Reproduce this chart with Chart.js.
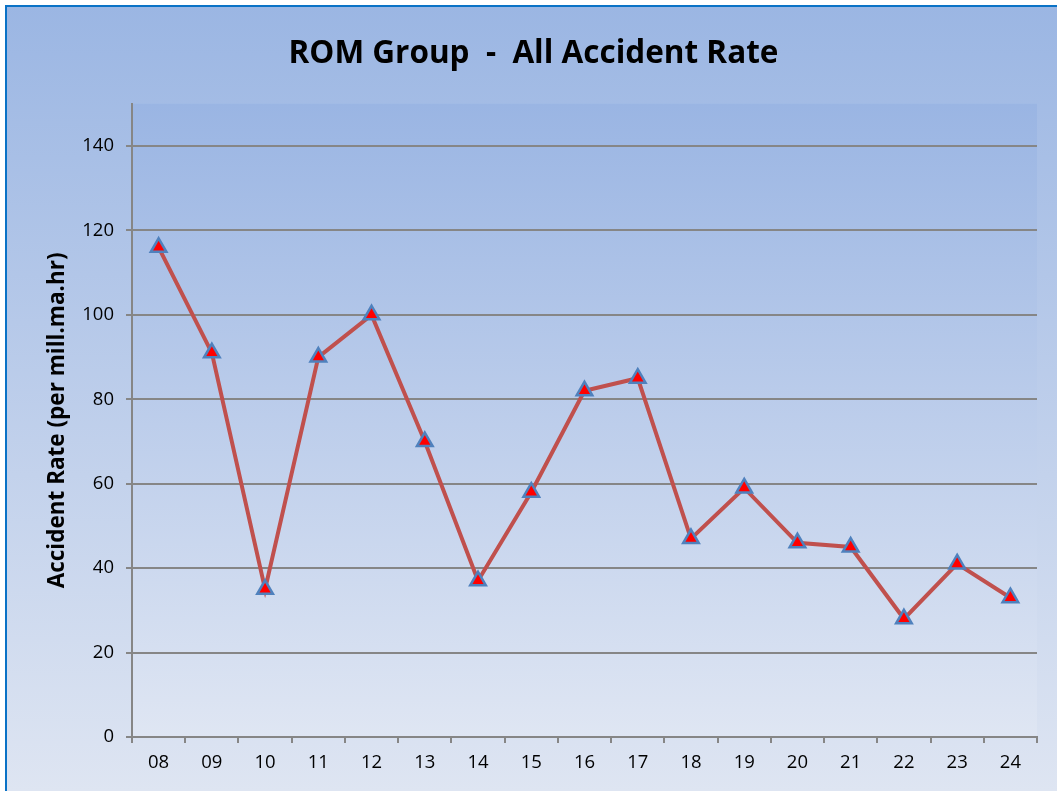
<!DOCTYPE html>
<html>
<head>
<meta charset="utf-8">
<script src="https://cdn.jsdelivr.net/npm/chart.js@4/dist/chart.umd.min.js"></script>
<style>
  html, body { margin: 0; padding: 0; background: #fff; }
  #wrap { position: relative; width: 1057px; height: 791px; }
</style>
</head>
<body>
<div id="wrap"><canvas id="rateChart"></canvas></div>
<script>
const years = ['08', '09', '10', '11', '12', '13', '14', '15', '16', '17', '18', '19', '20', '21', '22', '23', '24'];
const accidentRate = [116, 91, 35, 90, 100, 70, 37, 58, 82, 85, 47, 59, 46, 45, 28, 41, 33];
const yTicks = [0, 20, 40, 60, 80, 100, 120, 140];

// backgrounds: outer frame and plot area both fade from blue to pale
const backdrop = {
  id: 'backdrop',
  beforeDraw(chart) {
    const ctx = chart.ctx
    const w = chart.width, h = chart.height
    ctx.save()
    ctx.fillStyle = '#ffffff'
    ctx.fillRect(0, 0, w, h)
    let g = ctx.createLinearGradient(0, 6, 0, h)
    g.addColorStop(0, '#9bb6e3')
    g.addColorStop(1, '#dee5f2')
    ctx.fillStyle = g
    ctx.fillRect(6, 6, w, h)
    ctx.strokeStyle = '#0a72c6'
    ctx.lineWidth = 2
    ctx.beginPath()
    ctx.moveTo(6, h)
    ctx.lineTo(6, 6)
    ctx.lineTo(w, 6)
    ctx.stroke()
    const a = chart.chartArea
    g = ctx.createLinearGradient(0, a.top, 0, a.bottom)
    g.addColorStop(0, '#9ab5e3')
    g.addColorStop(1, '#dfe6f3')
    ctx.fillStyle = g
    ctx.fillRect(a.left, a.top, a.right - a.left, a.bottom - a.top)
    ctx.restore()
  }
}

const data = {
  labels: years,
  datasets: [{
    label: 'Accident Rate',
    data: accidentRate,
    borderColor: '#c0504d',
    borderWidth: 4,
    pointStyle: 'triangle',
    pointRadius: 9,
    pointHoverRadius: 9,
    pointBackgroundColor: '#ff0000',
    pointBorderColor: '#4f81bd',
    pointBorderWidth: 2.5,
    tension: 0
  }]
}

const config = {
  type: 'line',
  data: data,
  plugins: [backdrop],
  options: {
    responsive: false,
    animation: false,
    layout: { padding: { left: 30, right: 20, top: 0, bottom: 0 } },
    plugins: {
      legend: { display: false },
      tooltip: { enabled: false },
      title: {
        display: true,
        text: 'ROM Group  -  All Accident Rate',
        color: '#000',
        font: { family: 'Open Sans', size: 31.5, weight: 'bold' },
        padding: { top: 35, bottom: 31 }
      }
    },
    scales: {
      x: {
        offset: true,
        grid: {
          offset: true,
          drawOnChartArea: false,
          drawTicks: true,
          tickLength: 6,
          color: '#868686',
          lineWidth: 2
        },
        border: { color: '#868686', width: 2 },
        ticks: {
          color: '#000',
          padding: 9,
          font: { family: 'Open Sans', size: 18.5 }
        },
        afterFit(scale) { scale.height = 54 }
      },
      y: {
        min: 0,
        max: 150,
        afterBuildTicks(scale) { scale.ticks = yTicks.map(v => ({ value: v })) },
        grid: {
          color: '#868686',
          lineWidth: 2,
          tickLength: 6
        },
        border: { color: '#868686', width: 2 },
        ticks: {
          color: '#000',
          padding: 12,
          font: { family: 'Open Sans', size: 18.5 }
        },
        title: {
          display: true,
          text: 'Accident Rate (per mill.ma.hr)',
          color: '#000',
          font: { family: 'Open Sans', size: 22.5, weight: 'bold' },
          padding: { top: 14, bottom: 0 }
        },
        afterFit(scale) { scale.width = 102 }
      }
    }
  }
}

const canvas = document.getElementById('rateChart')
canvas.width = 1057
canvas.height = 791
const rateChart = new Chart(canvas, config)
</script>
</body>
</html>
